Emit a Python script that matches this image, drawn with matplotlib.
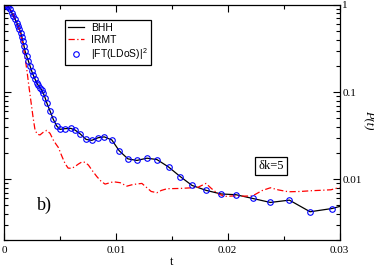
import numpy as np
import matplotlib
matplotlib.use('Agg')
import matplotlib.pyplot as plt
from matplotlib.ticker import LogLocator, MultipleLocator, FixedLocator, NullFormatter

plt.rcParams['mathtext.fontset'] = 'custom'
plt.rcParams['mathtext.rm'] = 'Liberation Sans'

# |FT(LDoS)|^2 circles (t, P)
ft_t = [0.00005, 0.00012, 0.00024, 0.00039, 0.00054, 0.00069, 0.00083, 0.00099, 0.00114,
        0.00128, 0.00137, 0.00150, 0.00159, 0.00167, 0.00179, 0.00188, 0.00203, 0.00218,
        0.00233, 0.00248, 0.00262, 0.00278, 0.00293, 0.00307, 0.00322, 0.00338, 0.00352,
        0.00367, 0.00382, 0.00412, 0.00441, 0.00472, 0.00501, 0.00546, 0.00597, 0.00636,
        0.00681, 0.00734, 0.00785, 0.00842, 0.00896, 0.00964, 0.0103, 0.01108, 0.01188,
        0.01278, 0.01367, 0.01471, 0.01576, 0.01681, 0.01809, 0.01941, 0.02075, 0.02224,
        0.02382, 0.02552, 0.02737, 0.02934]
ft_p = [1.0, 0.995, 0.974, 0.959, 0.893, 0.818, 0.748, 0.685, 0.628,
        0.574, 0.526, 0.482, 0.433, 0.386, 0.338, 0.296, 0.259, 0.227,
        0.199, 0.174, 0.156, 0.140, 0.128, 0.119, 0.112, 0.105, 0.0966,
        0.0863, 0.0755, 0.0605, 0.0485, 0.0407, 0.0373, 0.0380, 0.0383, 0.0366,
        0.0331, 0.0286, 0.0279, 0.0299, 0.0306, 0.0282, 0.0212, 0.0171, 0.0164,
        0.0174, 0.0168, 0.0138, 0.0107, 0.00847, 0.00742, 0.00676, 0.00662, 0.00600,
        0.00540, 0.00574, 0.00422, 0.00460]

# BHH line
bhh_t = [0.0] + ft_t + [0.030]
bhh_p = [1.0] + ft_p + [0.00485]

# IRMT dash-dot line
irmt_t = [0.0, 0.00036, 0.00072, 0.00107, 0.00143, 0.00170, 0.00188, 0.00206, 0.00224,
          0.00242, 0.00260, 0.00278, 0.00300, 0.00322, 0.00349, 0.00382, 0.00412, 0.00441,
          0.00466, 0.00486, 0.00517, 0.00546, 0.00573, 0.00606, 0.00636, 0.00665, 0.00698,
          0.00725, 0.00755, 0.00788, 0.00830, 0.00869, 0.00904, 0.00940, 0.00979, 0.01039,
          0.01099, 0.01155, 0.01233, 0.01278, 0.01316, 0.01367, 0.01406, 0.01457, 0.01576,
          0.01681, 0.01731, 0.01806, 0.01854, 0.01910, 0.01970, 0.02051, 0.02134, 0.02221,
          0.02310, 0.02382, 0.02454, 0.02543, 0.02651, 0.02747, 0.02848, 0.02924, 0.0300]
irmt_p = [1.0, 0.953, 0.835, 0.667, 0.499, 0.344, 0.251, 0.173, 0.113,
          0.0762, 0.0512, 0.0363, 0.0327, 0.0322, 0.0344, 0.0363, 0.0335, 0.0281,
          0.0251, 0.0231, 0.0184, 0.0151, 0.0134, 0.0133, 0.0140, 0.0149, 0.0158,
          0.0156, 0.0145, 0.0126, 0.0107, 0.00942, 0.00877, 0.00904, 0.00933, 0.00910,
          0.00831, 0.00869, 0.00893, 0.00796, 0.00722, 0.00698, 0.00741, 0.00776, 0.00782,
          0.00796, 0.00803, 0.00893, 0.00782, 0.00685, 0.00633, 0.00641, 0.00638, 0.00641,
          0.00741, 0.00796, 0.00752, 0.00716, 0.00722, 0.00736, 0.00746, 0.00755, 0.00803]

x_ticks = [0, 0.01, 0.02, 0.03]
x_labels = ['0', '0.01', '0.02', '0.03']
y_ticks = [1, 0.1, 0.01]
y_labels = ['1', '0.1', '0.01']

W, H = 374, 268
fig = plt.figure(figsize=(W / 100, H / 100), dpi=100)
ax = fig.add_axes([4 / W, 1 - 240 / H, 335.5 / W, 235 / H])

ax.plot(bhh_t, bhh_p, '-', color='black', lw=0.9, label='BHH')
ax.plot(irmt_t, irmt_p, '-.', color='red', lw=0.9, dashes=(5, 2, 1, 2), label='IRMT')
ax.plot(ft_t, ft_p, 'o', mfc='none', mec='blue', ms=4, mew=0.8,
        label='|FT(LDoS)|$^{2}$')

ax.set_yscale('log')
ax.set_xlim(0, 0.03)
ax.set_ylim(0.002, 1)

serif = 'Liberation Serif'
ax.set_xticks(x_ticks)
ax.set_xticklabels(x_labels, family=serif, fontsize=8)
ax.xaxis.set_minor_locator(MultipleLocator(0.005))
ax.yaxis.set_major_locator(FixedLocator(y_ticks))
ax.set_yticklabels(y_labels, family=serif, fontsize=8)
ax.yaxis.set_minor_locator(LogLocator(base=10, subs=np.arange(2, 10)))
ax.yaxis.set_minor_formatter(NullFormatter())
ax.tick_params(which='both', direction='in', top=True, right=True,
               labelleft=False, labelright=True, width=0.8)
ax.tick_params(which='major', length=5, pad=2)
ax.tick_params(axis='x', which='major', pad=4)
ax.tick_params(which='minor', length=3)
for s in ax.spines.values():
    s.set_linewidth(0.9)

ax.set_xlabel('t', family=serif, fontsize=9, labelpad=1)
fig.text(369 / W, 1 - 120 / H, 'P(t)', family=serif, style='italic', fontsize=9,
         rotation=-90, ha='center', va='center')

ax.text(33 / 335.5, 1 - 200 / 235, 'b)', transform=ax.transAxes,
        family=serif, fontsize=13, ha='left', va='center')
ax.text(267 / 335.5, 1 - 161 / 235, 'δk=5', transform=ax.transAxes,
        family=serif, fontsize=9, ha='center', va='center',
        bbox=dict(boxstyle='square,pad=0.25', fc='white', ec='black', lw=0.9))

leg = ax.legend(loc='upper left', bbox_to_anchor=(61 / 335.5, 1 - 15 / 235),
                borderaxespad=0,
                prop={'family': 'Liberation Sans', 'size': 7.5},
                handlelength=1.5, handletextpad=0.7, labelspacing=0.15,
                borderpad=0.3, fancybox=False, framealpha=1, edgecolor='black')
leg.get_frame().set_linewidth(0.9)

fig.savefig('out.png', dpi=100)
